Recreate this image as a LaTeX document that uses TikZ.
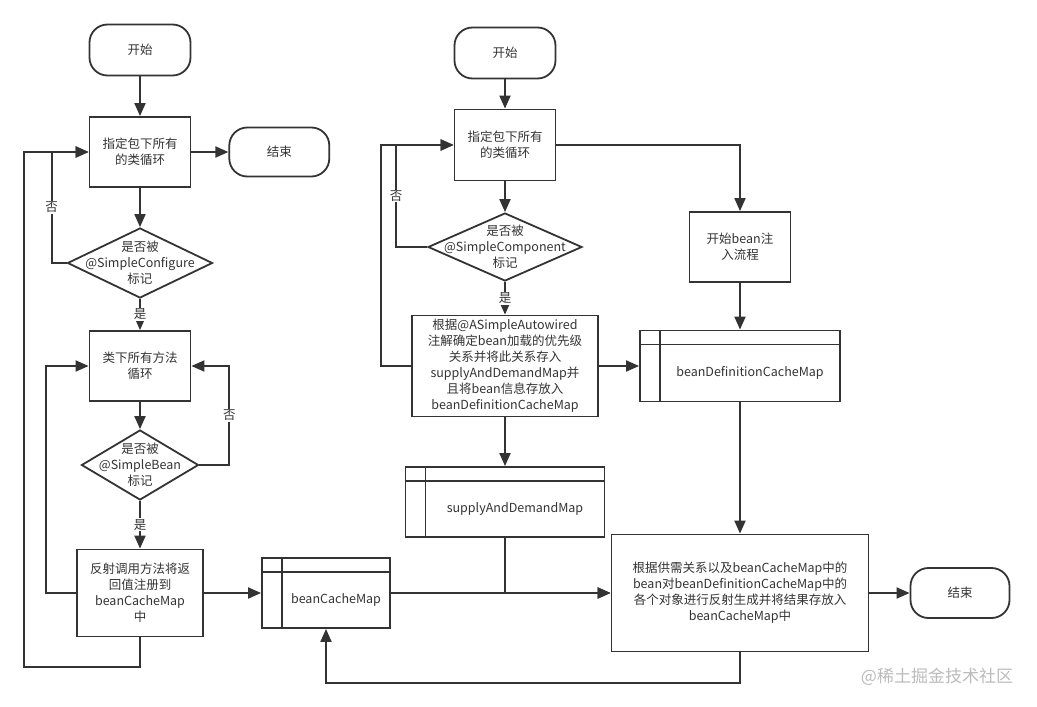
\documentclass[tikz,border=0pt]{standalone}
\usepackage{fontspec}
\setmainfont{Noto Sans CJK SC}
\usetikzlibrary{arrows.meta,positioning,shapes.geometric}
\definecolor{lineC}{HTML}{333333}
\definecolor{markC}{HTML}{BBBBBB}

\begin{document}
\begin{tikzpicture}[x=1pt,y=-1pt,>={Triangle[length=13pt,width=11pt]},
  every node/.style={font=\fontsize{12.5}{16}\selectfont,text=lineC},
  box/.style={draw=lineC,line width=1.8pt,align=center,inner sep=2pt,minimum width=101pt,minimum height=70pt},
  term/.style={box,rounded corners=18pt,minimum height=51pt},
  dec/.style={diamond,draw=lineC,line width=1.8pt,inner sep=0pt,minimum height=70pt},
  tbl/.style={box,path picture={
    \draw[lineC,line width=1.8pt] ([yshift=-14pt]path picture bounding box.north west) -- ([yshift=-14pt]path picture bounding box.north east);
    \draw[lineC,line width=1.8pt] ([xshift=20pt]path picture bounding box.north west) -- ([xshift=20pt]path picture bounding box.south west);}},
  tbltxt/.style={xshift=10pt,yshift=-7pt},
  arr/.style={->,draw=lineC,line width=1.9pt},
  yn/.style={fill=white,inner sep=1pt}]
\useasboundingbox (0,0) rectangle (1037,707);
% left flow: configure classes
\node[term] (start1) at (140,50) {开始};
\node[box] (cls1) at (140,152) {指定包下所有\\的类循环};
\node[term,minimum width=100pt,minimum height=49pt,right=37pt of cls1] (end1) {结束};
\node[dec,minimum width=145pt,label={[align=center]center:是否被\\@SimpleConfigure\\标记}] (isconf) at (140,263) {};
\node[box] (meth) at (140,366) {类下所有方法\\循环};
\node[dec,minimum width=117pt,label={[align=center]center:是否被\\@SimpleBean\\标记}] (isbean) at (140,465) {};
\node[box,minimum width=126pt,minimum height=87pt] (reg) at (140,593) {反射调用方法将返\\回值注册到\\beanCacheMap\\中};
\node[tbl,minimum width=128pt,label={[tbltxt]center:beanCacheMap}] (bcm) at (326,593) {};
% middle flow: components
\node[term] (start2) at (505,53) {开始};
\node[box,minimum height=71pt] (cls2) at (505,145) {指定包下所有\\的类循环};
\node[dec,minimum width=154pt,minimum height=68pt,label={[align=center]center:是否被\\@SimpleComponent\\标记}] (iscomp) at (505,247) {};
\node[box,minimum width=186pt,minimum height=101pt] (prio) at (505,366) {根据@ASimpleAutowired\\注解确定bean加载的优先级\\关系并将此关系存入\\supplyAndDemandMap并\\且将bean信息存放入\\beanDefinitionCacheMap};
\node[tbl,minimum width=199pt,label={[tbltxt]center:supplyAndDemandMap}] (sdm) at (505,502) {};
% right flow: injection
\node[box] (inject) at (740,247) {开始bean注\\入流程};
\node[tbl,minimum width=200pt,minimum height=71pt,label={[tbltxt]center:beanDefinitionCacheMap}] (bdcm) at (740,366) {};
\node[box,minimum width=257pt,minimum height=117pt] (build) at (740,593) {根据供需关系以及beanCacheMap中的\\bean对beanDefinitionCacheMap中的\\各个对象进行反射生成并将结果存放入\\beanCacheMap中};
\node[term,minimum width=99pt,minimum height=50pt] (end2) at (960,593) {结束};
\node[text=markC,font=\fontsize{17}{20}\selectfont] (mark) at (937,677) {@稀土掘金技术社区};
% connectors
\draw[arr] (start1) -- (cls1);
\draw[arr] (cls1) -- (end1);
\draw[arr] (cls1) -- (isconf);
\draw[arr] (isconf.west) -- ++(-15,0) |- node[yn,pos=.25]{否} (cls1.west);
\draw[arr] (isconf) -- node[yn]{是} (meth);
\draw[arr] (meth) -- (isbean);
\draw[arr] (isbean.east) -- ++(30,0) |- node[yn,pos=.25]{否} (meth.east);
\draw[arr] (isbean) -- node[yn]{是} (reg);
\draw[arr] (reg.west) -- ++(-30,0) |- (meth.west);
\draw[arr] (reg.south) -- ++(0,30) -| ([xshift=-65pt]cls1.west) -- (cls1.west);
\draw[arr] (reg) -- (bcm);
\draw[arr] (start2) -- (cls2);
\draw[arr] (cls2) -- (iscomp);
\draw[arr] (iscomp.west) -- ++(-31,0) |- node[yn,pos=.25]{否} (cls2.west);
\draw[arr] (iscomp) -- node[yn]{是} (prio);
\draw[arr] (prio.west) -- ++(-30,0) |- (cls2.west);
\draw[arr] (cls2.east) -| (inject);
\draw[arr] (inject) -- (bdcm);
\draw[arr] (prio) -- (bdcm);
\draw[arr] (prio) -- (sdm);
\draw[arr] (bdcm) -- (build);
\draw[arr] (bcm) -- (build);
\draw[arr] (sdm.south) |- (build.west);
\draw[arr] (build) -- (end2);
\draw[arr] (build.south) -- ++(0,31) -| (bcm.south);
\end{tikzpicture}
\end{document}
